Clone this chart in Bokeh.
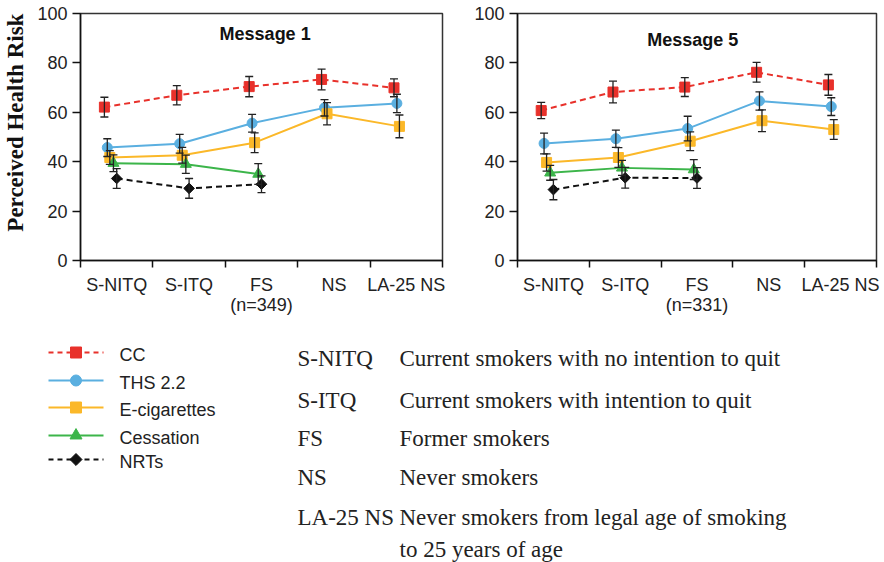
import numpy as np
from bokeh.plotting import figure
from bokeh.models import Range1d, FixedTicker, Whisker, TeeHead, ColumnDataSource, Label
from bokeh.layouts import column, row
from bokeh.embed import file_html
from bokeh.resources import INLINE
from bokeh.core.properties import value

# ---------------- data ----------------
categories = ["S-NITQ", "S-ITQ", "FS", "NS", "LA-25 NS"]
n_msg1 = "(n=349)"
n_msg5 = "(n=331)"
series_names = ["CC", "THS 2.2", "E-cigarettes", "Cessation", "NRTs"]

# Message 1 means and error half-widths
cc_m1 = [62.1, 66.9, 70.4, 73.3, 69.9]
cc_m1_err = [4.0, 3.9, 4.1, 4.2, 3.6]
ths_m1 = [45.7, 47.3, 55.6, 61.8, 63.6]
ths_m1_err = [3.6, 3.8, 3.6, 3.3, 3.7]
ecig_m1 = [41.7, 42.6, 47.7, 59.4, 54.3]
ecig_m1_err = [2.8, 3.2, 4.0, 4.5, 4.6]
cess_m1 = [39.4, 39.0, 35.0]
cess_m1_err = [3.4, 3.7, 4.2]
nrt_m1 = [33.2, 29.2, 30.9]
nrt_m1_err = [4.0, 4.0, 3.4]

# Message 5 means and error half-widths
cc_m5 = [60.7, 68.2, 70.2, 76.2, 71.1]
cc_m5_err = [3.3, 4.4, 3.8, 4.0, 4.2]
ths_m5 = [47.4, 49.3, 53.4, 64.6, 62.3]
ths_m5_err = [4.2, 3.5, 5.0, 3.7, 3.6]
ecig_m5 = [39.7, 41.7, 48.3, 56.6, 53.0]
ecig_m5_err = [3.5, 4.0, 3.8, 4.4, 4.0]
cess_m5 = [35.5, 37.5, 36.8]
cess_m5_err = [3.0, 3.0, 4.0]
nrt_m5 = [28.7, 33.5, 33.4]
nrt_m5_err = [4.1, 4.2, 4.2]

y_ticks = [0, 20, 40, 60, 80, 100]

definitions = [
    ("S-NITQ", "Current smokers with no intention to quit"),
    ("S-ITQ", "Current smokers with intention to quit"),
    ("FS", "Former smokers"),
    ("NS", "Never smokers"),
    ("LA-25 NS", "Never smokers from legal age of smoking"),
]
definition_cont = "to 25 years of age"

# ---------------- styles ----------------
colors = ["#e8312b", "#5aafe0", "#fbb829", "#3cb54a", "#111111"]
dashes = ["6 4", "solid", "solid", "solid", "6 4"]
markers = ["square", "circle", "square", "triangle", "square"]
msizes = [10, 10, 10, 11, 7.5]
mangles = [0, 0, 0, 0, np.pi / 4]
dodge = [-0.17, -0.13, -0.095, -0.045, 0.0]
SANS = "Liberation Sans"
SERIF = "Liberation Serif"


def make_panel(title, n_label, series, errs, width, height, bl, br, bt, bb, ylabel, title_xy):
    p = figure(width=width, height=height, x_range=Range1d(0, 5), y_range=Range1d(0, 100),
               output_backend="svg", toolbar_location=None,
               min_border_left=bl, min_border_right=br, min_border_top=bt, min_border_bottom=bb)
    p.grid.visible = False
    p.outline_line_color = "#333333"
    p.outline_line_width = 1.5
    p.background_fill_color = "white"

    xa = p.xaxis[0]
    centers = [i + 0.5 for i in range(len(categories))]
    xa.ticker = FixedTicker(ticks=centers, minor_ticks=list(range(len(categories) + 1)))
    labels = list(categories)
    labels[2] = categories[2] + "\n" + n_label
    xa.major_label_overrides = {c: l for c, l in zip(centers, labels)}
    xa.major_tick_line_color = None
    xa.major_tick_out = 0
    xa.major_tick_in = 0
    xa.major_label_standoff = 7
    xa.major_label_text_line_height = 1.0
    xa.minor_tick_out = 7
    xa.minor_tick_in = 0
    xa.minor_tick_line_color = "#111111"
    xa.minor_tick_line_width = 1.5
    xa.axis_line_width = 1.5
    xa.axis_line_color = "#111111"
    xa.major_label_text_font = SANS
    xa.major_label_text_font_size = "18px"
    xa.major_label_text_color = "#222222"

    ya = p.yaxis[0]
    ya.ticker = FixedTicker(ticks=y_ticks, minor_ticks=[])
    ya.major_tick_out = 8
    ya.major_tick_in = 0
    ya.major_tick_line_width = 1.5
    ya.major_tick_line_color = "#111111"
    ya.major_label_standoff = 5
    ya.axis_line_width = 1.5
    ya.axis_line_color = "#111111"
    ya.major_label_text_font = SANS
    ya.major_label_text_font_size = "18px"
    ya.major_label_text_color = "#222222"
    if ylabel:
        ya.axis_label = "\u00a0" * 5 + ylabel
        ya.axis_label_text_font = SERIF
        ya.axis_label_text_font_style = "bold"
        ya.axis_label_text_font_size = "23px"
        ya.axis_label_text_color = "#111111"
        ya.axis_label_standoff = 6

    for k, (vals, err) in enumerate(zip(series, errs)):
        xs = [i + 0.5 + dodge[k] for i in range(len(vals))]
        p.line(xs, vals, line_color=colors[k], line_width=2, line_dash=dashes[k])
        src = ColumnDataSource(dict(x=xs, upper=[v + e for v, e in zip(vals, err)],
                                    lower=[v - e for v, e in zip(vals, err)]))
        w = Whisker(base="x", upper="upper", lower="lower", source=src,
                    line_color="#222222", line_width=1.3, level="glyph",
                    upper_head=TeeHead(size=8, line_color="#222222", line_width=1.3),
                    lower_head=TeeHead(size=8, line_color="#222222", line_width=1.3))
        p.add_layout(w)
    for k, vals in enumerate(series):
        xs = [i + 0.5 + dodge[k] for i in range(len(vals))]
        p.scatter(xs, vals, marker=markers[k], size=msizes[k], angle=mangles[k],
                  fill_color=colors[k], line_color=colors[k])

    p.add_layout(Label(x=title_xy[0], y=title_xy[1], text=title, text_font=SANS,
                       text_font_style="bold", text_font_size="18px",
                       text_align="center", text_baseline="middle", text_color="#111111"))
    return p


p1 = make_panel("Message 1", n_msg1,
                [cc_m1, ths_m1, ecig_m1, cess_m1, nrt_m1],
                [cc_m1_err, ths_m1_err, ecig_m1_err, cess_m1_err, nrt_m1_err],
                448, 330, 79, 6, 12, 70, "Perceived Health Risk", (2.55, 91.5))
p2 = make_panel("Message 5", n_msg5,
                [cc_m5, ths_m5, ecig_m5, cess_m5, nrt_m5],
                [cc_m5_err, ths_m5_err, ecig_m5_err, cess_m5_err, nrt_m5_err],
                436, 330, 69, 8, 13, 66, None, (2.44, 89.4))

# ---------------- bottom: legend + definitions ----------------
p3 = figure(width=884, height=232, x_range=Range1d(0, 884), y_range=Range1d(562, 330),
            output_backend="svg", toolbar_location=None, min_border=0,
            x_axis_location=None, y_axis_location=None)
p3.grid.visible = False
p3.outline_line_color = None

leg_y = [352, 380, 407, 435, 459]
for k, name in enumerate(series_names):
    y = leg_y[k]
    p3.line([48, 103], [y, y], line_color=colors[k], line_width=2,
            line_dash="5 4" if dashes[k] != "solid" else "solid")
    p3.scatter([75.5], [y], marker=markers[k], size=msizes[k] + 1, angle=mangles[k],
               fill_color=colors[k], line_color=colors[k])
    p3.text([119], [y + 2], text=[name], text_font=value(SANS), text_font_size="18px",
            text_baseline="alphabetic", text_align="left", text_color="#222222")

def_y = [358, 400, 438, 477, 517]
p3.text([297] * len(definitions), def_y, text=[d[0] for d in definitions],
        text_font=value(SERIF), text_font_size="23px", text_baseline="alphabetic",
        text_color="#222222")
p3.text([399] * len(definitions), def_y, text=[d[1] for d in definitions],
        text_font=value(SERIF), text_font_size="23px", text_baseline="alphabetic",
        text_color="#222222")
p3.text([399], [549], text=[definition_cont], text_font=value(SERIF), text_font_size="23px",
        text_baseline="alphabetic", text_color="#222222")

layout = column(row(p1, p2, spacing=0), p3, spacing=0)
open("out.html", "w").write(file_html(layout, INLINE))
